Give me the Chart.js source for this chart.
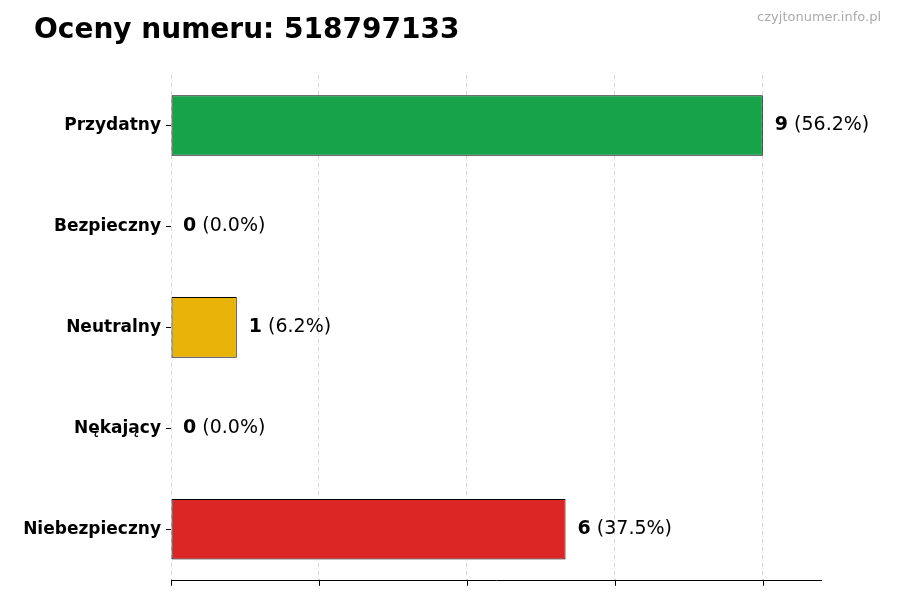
<!DOCTYPE html><html><head><meta charset="utf-8">
<script src="https://cdn.jsdelivr.net/npm/chart.js@4"></script>
<style>html,body{margin:0;background:#fff}</style></head><body><canvas id="c" width="900" height="600"></canvas>
<script>
const categories=["Przydatny","Bezpieczny","Neutralny","Nękający","Niebezpieczny"];
const counts=[9,0,1,0,6];
const percents=["56.2%","0.0%","6.2%","0.0%","37.5%"];
const colors=["#17a34a","#17a34a","#eab308","#888888","#dc2626"];
const xTicks=[0,2.25,4.5,6.75,9];
const F="'DejaVu Sans', sans-serif";
const deco={id:'deco',afterDraw(ch){
 const c=ch.ctx,x=ch.scales.x,y=ch.scales.y,a=ch.chartArea;
 c.save();
 c.fillStyle='#000';c.font="bold 28px "+F;c.textBaseline='middle';c.textAlign='left';
 c.fillText("Oceny numeru: 518797133",34,31);
 c.fillStyle='#aaa';c.font="13px "+F;c.textAlign='right';c.fillText("czyjtonumer.info.pl",881,18);
 c.strokeStyle='#000';c.lineWidth=1;
 c.beginPath();c.moveTo(a.left,Math.round(a.bottom)+0.5);c.lineTo(a.right,Math.round(a.bottom)+0.5);c.stroke();
 xTicks.forEach(v=>{const px=Math.round(x.getPixelForValue(v))+0.5;c.beginPath();c.moveTo(px,a.bottom);c.lineTo(px,a.bottom+6);c.stroke();});
 categories.forEach((_,i)=>{const py=Math.round(y.getPixelForValue(i))+0.5;c.beginPath();c.moveTo(a.left-5,py);c.lineTo(a.left,py);c.stroke();});
 c.textAlign='left';
 counts.forEach((v,i)=>{const px=x.getPixelForValue(v)+12,py=y.getPixelForValue(i);
  c.font="bold 19px "+F;const s=String(v);c.fillStyle='#000';c.fillText(s,px,py);
  const w=c.measureText(s).width;c.font="19px "+F;c.fillText(" ("+percents[i]+")",px+w,py);});
 c.restore();}};
new Chart(document.getElementById('c'),{type:'bar',
 data:{labels:categories,datasets:[{data:counts,backgroundColor:colors,borderColor:'#000',borderWidth:1,borderSkipped:false,barPercentage:0.6,categoryPercentage:1}]},
 options:{indexAxis:'y',responsive:false,animation:false,devicePixelRatio:1,
  layout:{padding:{top:75,right:78,left:0,bottom:0}},
  plugins:{legend:{display:false},tooltip:{enabled:false}},
  scales:{
   x:{min:0,max:9.9,afterBuildTicks(s){s.ticks=xTicks.map(v=>({value:v}));},
     afterFit(s){s.height=20;},
     ticks:{display:false},
     grid:{color:'#d9d9d9',drawTicks:false},border:{display:false,dash:[4,4]}
   },
   y:{afterFit(s){s.width=171;},grid:{display:false,drawTicks:false},border:{display:false},
     ticks:{autoSkip:false,color:'#000',font:{family:F,size:17,weight:'bold'},padding:10}}
  }},plugins:[deco]});
</script></body></html>
